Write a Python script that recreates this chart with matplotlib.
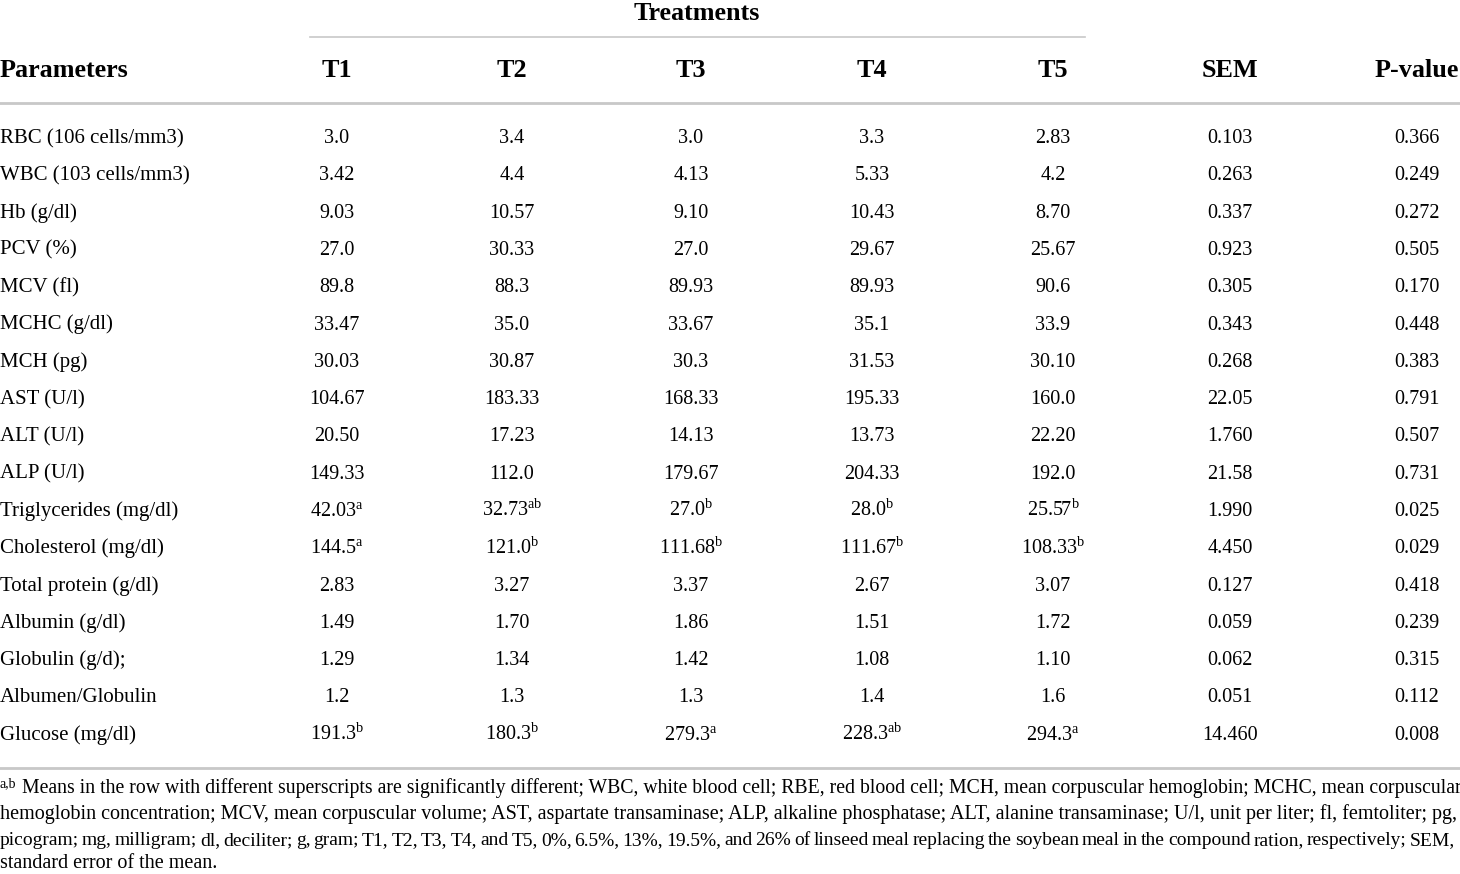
import matplotlib
matplotlib.use('Agg')
import matplotlib.pyplot as plt

plt.rcParams['font.family'] = ['Liberation Serif', 'DejaVu Serif']
plt.rcParams['mathtext.fontset'] = 'custom'
plt.rcParams['mathtext.rm'] = 'Liberation Serif'
plt.rcParams['mathtext.it'] = 'Liberation Serif:italic'
plt.rcParams['mathtext.bf'] = 'Liberation Serif:bold'

group_title = "Treatments"
columns = ["Parameters", "T1", "T2", "T3", "T4", "T5", "SEM", "P-value"]

parameters = [
    "RBC (106 cells/mm3)", "WBC (103 cells/mm3)", "Hb (g/dl)", "PCV (%)", "MCV (fl)",
    "MCHC (g/dl)", "MCH (pg)", "AST (U/l)", "ALT (U/l)", "ALP (U/l)",
    "Triglycerides (mg/dl)", "Cholesterol (mg/dl)", "Total protein (g/dl)",
    "Albumin (g/dl)", "Globulin (g/d);", "Albumen/Globulin", "Glucose (mg/dl)",
]
t1 = ["3.0", "3.42", "9.03", "27.0", "89.8", "33.47", "30.03", "104.67", "20.50", "149.33",
      "42.03", "144.5", "2.83", "1.49", "1.29", "1.2", "191.3"]
t2 = ["3.4", "4.4", "10.57", "30.33", "88.3", "35.0", "30.87", "183.33", "17.23", "112.0",
      "32.73", "121.0", "3.27", "1.70", "1.34", "1.3", "180.3"]
t3 = ["3.0", "4.13", "9.10", "27.0", "89.93", "33.67", "30.3", "168.33", "14.13", "179.67",
      "27.0", "111.68", "3.37", "1.86", "1.42", "1.3", "279.3"]
t4 = ["3.3", "5.33", "10.43", "29.67", "89.93", "35.1", "31.53", "195.33", "13.73", "204.33",
      "28.0", "111.67", "2.67", "1.51", "1.08", "1.4", "228.3"]
t5 = ["2.83", "4.2", "8.70", "25.67", "90.6", "33.9", "30.10", "160.0", "22.20", "192.0",
      "25.57", "108.33", "3.07", "1.72", "1.10", "1.6", "294.3"]
sem = ["0.103", "0.263", "0.337", "0.923", "0.305", "0.343", "0.268", "22.05", "1.760", "21.58",
       "1.990", "4.450", "0.127", "0.059", "0.062", "0.051", "14.460"]
p_value = ["0.366", "0.249", "0.272", "0.505", "0.170", "0.448", "0.383", "0.791", "0.507", "0.731",
           "0.025", "0.029", "0.418", "0.239", "0.315", "0.112", "0.008"]

# superscripts (significance letters), row index -> letters per treatment
t1_sup = {10: "a", 11: "a", 16: "b"}
t2_sup = {10: "ab", 11: "b", 16: "b"}
t3_sup = {10: "b", 11: "b", 16: "a"}
t4_sup = {10: "b", 11: "b", 16: "ab"}
t5_sup = {10: "b", 11: "b", 16: "a"}

footnote_sup = "a,b"
footnote_lines = [
    "Means in the row with different superscripts are significantly different; WBC, white blood cell; RBE, red blood cell; MCH, mean corpuscular hemoglobin; MCHC, mean corpuscular",
    "hemoglobin concentration; MCV, mean corpuscular volume; AST, aspartate transaminase; ALP, alkaline phosphatase; ALT, alanine transaminase; U/l, unit per liter; fl, femtoliter; pg,",
    "picogram; mg, milligram; dl, deciliter; g, gram; T1, T2, T3, T4, and T5, 0%, 6.5%, 13%, 19.5%, and 26% of linseed meal replacing the soybean meal in the compound ration, respectively; SEM,",
    "standard error of the mean.",
]

W, H = 1460, 874
fig = plt.figure(figsize=(W / 100, H / 100), dpi=100)
ax = fig.add_axes([0, 0, 1, 1])
ax.set_xlim(0, W)
ax.set_ylim(H, 0)
ax.axis('off')

col_x = [0, 337, 512, 691, 872, 1053, 1230, 1417]
hfs = 18.8   # header
lfs = 15.0   # row labels
nfs = 14.5   # numbers
line_col = '#c8c8c8'

# header
ax.text(697, 20, group_title, ha='center', va='baseline', fontsize=hfs, fontweight='bold')
ax.plot([310, 1085], [37, 37], color=line_col, lw=1.2)
for i, c in enumerate(columns):
    ax.text(col_x[i], 77, c, ha='left' if i == 0 else 'center', va='baseline',
            fontsize=hfs, fontweight='bold')
ax.plot([0, W], [103, 103], color=line_col, lw=2)

def cell(v, sup):
    if sup:
        return v + r"$^{\mathrm{" + sup + "}}$"
    return v

value_cols = [(t1, t1_sup), (t2, t2_sup), (t3, t3_sup), (t4, t4_sup), (t5, t5_sup),
              (sem, {}), (p_value, {})]
y0, dy = 143, 37.3
for r, name in enumerate(parameters):
    y = y0 + r * dy
    ax.text(0, y, name, ha='left', va='baseline', fontsize=lfs)
    for j, (vals, sups) in enumerate(value_cols):
        ax.text(col_x[j + 1], y, cell(vals[r], sups.get(r, "")), ha='center', va='baseline',
                fontsize=nfs)

ax.plot([0, W], [768, 768], color=line_col, lw=2)

# footnote, laid out to span the width like the justified source
renderer = fig.canvas.get_renderer()
ffs = 14.5
right = W - 5
ax.text(0, 787, footnote_sup, ha='left', va='baseline', fontsize=10)
fy = [793, 819, 845, 868]
for k, line in enumerate(footnote_lines):
    x_start = 22 if k == 0 else 0
    if k == 2:
        # tight line: same type size, narrow word gaps
        words = line.split(' ')
        arts = [ax.text(0, fy[k], w_, ha='left', va='baseline', fontsize=14.0) for w_ in words]
        widths = [a.get_window_extent(renderer).width for a in arts]
        gap = (right - x_start - sum(widths)) / (len(words) - 1)
        x = x_start
        for a, w_ in zip(arts, widths):
            a.set_x(x)
            x += w_ + gap
        continue
    t = ax.text(x_start, fy[k], line, ha='left', va='baseline', fontsize=ffs)
    if k < len(footnote_lines) - 1:
        w_ = t.get_window_extent(renderer).width
        t.set_fontsize(ffs * (right - x_start) / w_)

fig.savefig('out.png', dpi=100)
